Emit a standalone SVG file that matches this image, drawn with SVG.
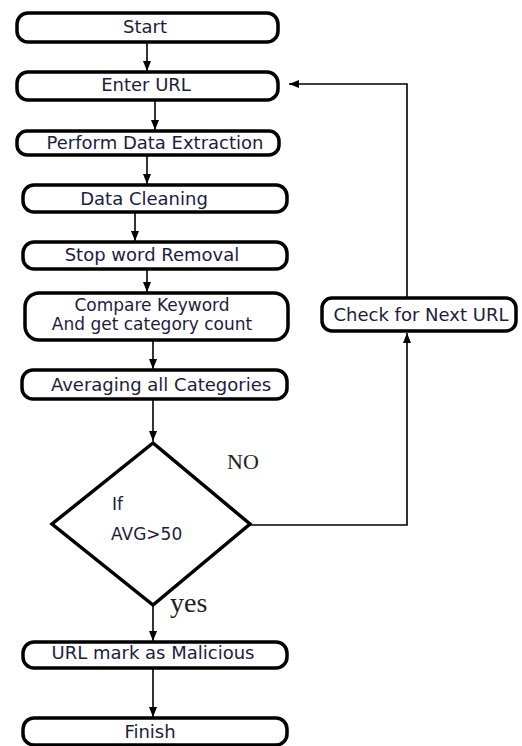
<svg xmlns="http://www.w3.org/2000/svg" width="522" height="746" viewBox="0 0 522 746">
<defs>
<marker id="ah2" viewBox="0 0 10 10" refX="10" refY="5" markerWidth="10" markerHeight="10" orient="auto" markerUnits="userSpaceOnUse"><path d="M0,1 L10,5 L0,9 z" fill="#000"/></marker>
</defs>
<style>
.box{fill:#fff;stroke:#000;stroke-width:3.5}
.t{font-family:"DejaVu Sans",Verdana,sans-serif;font-size:18px;fill:#1c1c40;text-anchor:middle}
.t2{font-family:"DejaVu Sans",Verdana,sans-serif;font-size:17px;fill:#1c1c40;text-anchor:middle}
.d{font-family:"DejaVu Sans",Verdana,sans-serif;font-size:17px;fill:#1c1c40}
.c{fill:none;stroke:#000;stroke-width:1.6}
.s{font-family:"Liberation Serif","Times New Roman",serif;fill:#222}
</style>
<rect width="522" height="746" fill="#fff"/>
<g id="connectors">
<line class="c" x1="147" y1="43" x2="147" y2="71" marker-end="url(#ah2)"/>
<line class="c" x1="155" y1="101" x2="155" y2="130" marker-end="url(#ah2)"/>
<line class="c" x1="147" y1="155" x2="147" y2="184" marker-end="url(#ah2)"/>
<line class="c" x1="135" y1="213" x2="135" y2="241" marker-end="url(#ah2)"/>
<line class="c" x1="147" y1="270" x2="147" y2="292" marker-end="url(#ah2)"/>
<line class="c" x1="153" y1="340" x2="153" y2="369" marker-end="url(#ah2)"/>
<line class="c" x1="153" y1="400" x2="153" y2="441" marker-end="url(#ah2)"/>
<line class="c" x1="153" y1="605" x2="153" y2="641" marker-end="url(#ah2)"/>
<line class="c" x1="153" y1="668" x2="153" y2="717" marker-end="url(#ah2)"/>
<polyline class="c" points="250,525 407,525 407,333" marker-end="url(#ah2)"/>
<polyline class="c" points="407,297 407,84 289,84" marker-end="url(#ah2)"/>
</g>
<g id="start"><rect class="box" x="17" y="13" width="261" height="29" rx="11"/><text class="t" x="145" y="33">Start</text></g>
<g id="enter-url"><rect class="box" x="17" y="72" width="261" height="28" rx="11"/><text class="t" x="146" y="91">Enter URL</text></g>
<g id="extraction"><rect class="box" x="17" y="131" width="262" height="24" rx="10"/><text class="t" x="155" y="149">Perform Data Extraction</text></g>
<g id="cleaning"><rect class="box" x="23" y="185" width="264" height="27" rx="11"/><text class="t" x="144" y="205">Data Cleaning</text></g>
<g id="stopword"><rect class="box" x="23" y="242" width="264" height="27" rx="11"/><text class="t" x="152" y="261">Stop word Removal</text></g>
<g id="compare"><rect class="box" x="25" y="293" width="263" height="47" rx="14"/><text class="t2" x="152" y="311">Compare Keyword</text><text class="t2" x="152" y="330">And get category count</text></g>
<g id="averaging"><rect class="box" x="22" y="370" width="265" height="29" rx="11"/><text class="t" x="161" y="391">Averaging all Categories</text></g>
<g id="decision"><polygon points="153,443 52,524 153,605 250,524" fill="#fff" stroke="#000" stroke-width="3.5"/><text class="d" x="112" y="510">If</text><text class="d" x="111" y="540">AVG&gt;50</text></g>
<text class="s" x="227" y="469" font-size="22">NO</text>
<text class="s" x="170" y="612" font-size="28">yes</text>
<g id="check-next"><rect class="box" x="322" y="298" width="194" height="33" rx="10"/><text class="t" x="421" y="321">Check for Next URL</text></g>
<g id="malicious"><rect class="box" x="23" y="642" width="264" height="26" rx="11"/><text class="t" x="153" y="659">URL mark as Malicious</text></g>
<g id="finish"><rect class="box" x="23" y="718" width="264" height="27" rx="11"/><text class="t" x="150" y="738">Finish</text></g>
</svg>
